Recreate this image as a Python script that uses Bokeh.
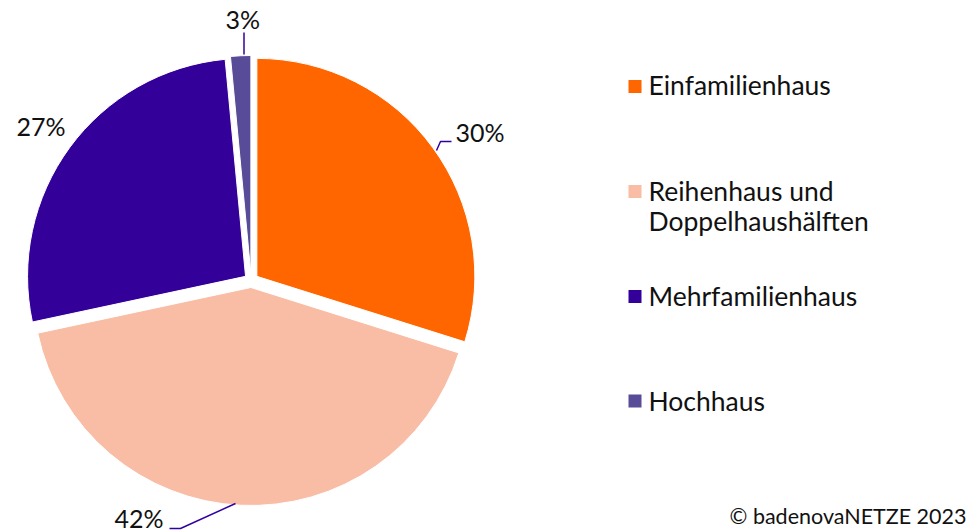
import numpy as np
from bokeh.plotting import figure
from bokeh.models import Range1d, ColumnDataSource
from bokeh.core.properties import value
from bokeh.embed import file_html
from bokeh.resources import INLINE

# ---- data ----
categories = ["Einfamilienhaus", "Reihenhaus und\nDoppelhaushälften", "Mehrfamilienhaus", "Hochhaus"]
shares = [30.0, 42.0, 27.0, 1.5]
pct_labels = ["30%", "42%", "27%", "3%"]
colors = ["#FF6600", "#F8BDA4", "#330099", "#584B97"]
credit = "© badenovaNETZE 2023"

W, H = 970, 532
FONT = "Lato"

def sy(y):
    return H - y

p = figure(width=W, height=H, output_backend="svg", toolbar_location=None,
           x_range=Range1d(0, W), y_range=Range1d(0, H), min_border=0)
p.axis.visible = False
p.grid.visible = False
p.outline_line_color = None
p.background_fill_color = "white"

# ---- pie ----
vals = np.array(shares)
frac = vals / vals.sum()
cum = np.concatenate([[0], np.cumsum(frac)])
start = np.pi / 2 - 2 * np.pi * cum[:-1]
end = np.pi / 2 - 2 * np.pi * cum[1:]
mid = (start + end) / 2
cx, cy, r, d = 250.7, sy(280), 218, 7
src = ColumnDataSource(dict(
    x=cx + d * np.cos(mid), y=cy + d * np.sin(mid),
    start=start, end=end, color=colors))
p.wedge(x="x", y="y", radius=r, start_angle="start", end_angle="end",
        direction="clock", fill_color="color", line_color="white",
        line_width=1, source=src)

# ---- leader lines ----
lead = "#3300A0"
p.line([436, 440, 451], [sy(150), sy(141), sy(141)], line_color=lead, line_width=1.5)
p.line([235, 180, 169], [sy(503), sy(528), sy(528)], line_color=lead, line_width=1.5)
p.line([243.5, 243.5], [sy(54), sy(32)], line_color=lead, line_width=1.5)

# ---- percentage labels ----
lab_x = [455, 114, 16, 225]
lab_y = [sy(131), sy(517.5), sy(125.5), sy(18)]
p.text(x=lab_x, y=lab_y, text=pct_labels, text_font=value(FONT),
       text_font_size="25px", text_color="#111111", text_baseline="middle",
       text_align="left")

# ---- legend ----
sq_y = [86, 191, 296, 400.5]
p.rect(x=[634.5] * 4, y=[sy(v) for v in sq_y], width=13, height=13,
       fill_color=colors, line_color=None)
leg_lines = []
leg_y = []
mids = [84.5, 190.5, 295, 400]
for c, b in zip(categories, mids):
    for k, ln in enumerate(c.split("\n")):
        leg_lines.append(ln)
        leg_y.append(sy(b + 30 * k))
p.text(x=[648] * len(leg_lines), y=leg_y, text=leg_lines, text_font=value(FONT),
       text_font_size="26.5px", text_color="#111111", text_baseline="middle",
       text_align="left")

# ---- credit ----
p.text(x=[966], y=[sy(515)], text=[credit], text_font=value(FONT),
       text_font_size="21.5px", text_color="#111111", text_baseline="middle",
       text_align="right")

open("out.html", "w").write(file_html(p, INLINE))
